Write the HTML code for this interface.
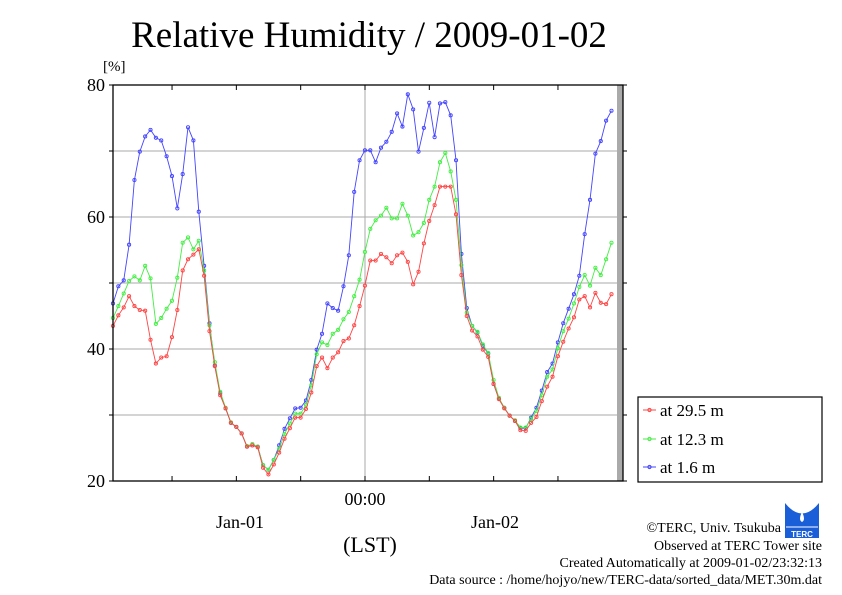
<!DOCTYPE html>
<html><head><meta charset="utf-8"><style>
html,body{margin:0;padding:0;background:#fff;}
svg{display:block;font-family:"Liberation Serif",serif;}
</style></head><body>
<svg id="chart" width="842" height="595" viewBox="0 0 842 595" xmlns="http://www.w3.org/2000/svg">
<rect x="0" y="0" width="842" height="595" fill="#fff"/>
<text x="369" y="47" text-anchor="middle" font-size="37" fill="#000">Relative Humidity / 2009-01-02</text>
<text x="103" y="71" font-size="15" fill="#000">[%]</text>
<g id="grid"></g>
<rect x="617" y="85" width="6" height="396" fill="#aaa"/>
<g id="series"></g>
<rect x="113" y="85" width="510" height="396" fill="none" stroke="#000" stroke-width="1.3"/>
<g id="axes"></g>
<text x="365" y="505" text-anchor="middle" font-size="18">00:00</text>
<text x="240" y="528" text-anchor="middle" font-size="18">Jan-01</text>
<text x="495" y="528" text-anchor="middle" font-size="18">Jan-02</text>
<text x="370" y="552" text-anchor="middle" font-size="22">(LST)</text>
<g>
<rect x="638" y="397" width="184" height="85" fill="#fff" stroke="#000" stroke-width="1.2"/>
<g><line x1="643" y1="410" x2="656" y2="410" stroke="#f44"/><circle cx="649.5" cy="410" r="1.6" fill="none" stroke="#f44"/><text x="660" y="416" font-size="17">at 29.5 m</text></g>
<g><line x1="643" y1="439" x2="656" y2="439" stroke="#4e4"/><circle cx="649.5" cy="439" r="1.6" fill="none" stroke="#4e4"/><text x="660" y="445" font-size="17">at 12.3 m</text></g>
<g><line x1="643" y1="467" x2="656" y2="467" stroke="#44f"/><circle cx="649.5" cy="467" r="1.6" fill="none" stroke="#44f"/><text x="660" y="473" font-size="17">at 1.6 m</text></g>
</g>
<g>
<rect x="785" y="503" width="34" height="35" fill="#1a5fd8"/>
<path d="M785 503 Q802 524 819 503 Z" fill="#fff"/>
<path d="M802 512 Q798 520 802 522 Q806 520 802 512Z" fill="#fff"/>
<line x1="786" y1="527" x2="818" y2="527" stroke="#fff" stroke-width="1"/>
<text x="802" y="537" text-anchor="middle" font-size="8" fill="#fff" font-family="Liberation Sans, sans-serif" font-weight="bold">TERC</text>
</g>
<g font-size="14" text-anchor="end" fill="#000">
<text x="781" y="532">©TERC, Univ. Tsukuba</text>
<text x="822" y="550">Observed at TERC Tower site</text>
<text x="822" y="567">Created Automatically at 2009-01-02/23:32:13</text>
<text x="822" y="584">Data source : /home/hojyo/new/TERC-data/sorted_data/MET.30m.dat</text>
</g>
</svg>
<script>
const yTicks = [20, 40, 60, 80];
const yGrid = [30, 40, 50, 60, 70];
const red = [43.5,45.1,46.3,48.0,46.5,45.9,45.8,41.4,37.8,38.7,38.9,41.8,45.9,51.9,53.6,54.3,55.1,51.1,42.7,37.4,33.0,31.0,28.8,28.2,27.2,25.2,25.4,25.1,22.0,21.0,22.5,24.3,26.4,28.0,29.6,29.6,30.9,33.4,37.4,38.7,37.1,38.7,39.5,41.2,41.6,43.6,46.5,
49.6,53.4,53.4,54.4,53.9,53.0,54.2,54.6,53.2,49.8,51.7,56.0,59.4,61.8,64.6,64.6,64.6,60.4,
51.2,45.0,42.8,41.9,39.9,38.8,34.7,32.4,31.0,29.9,29.1,27.7,27.6,28.8,29.7,32.1,34.3,35.8,38.9,41.1,43.1,44.8,47.5,48.0,46.3,48.5,47.0,46.8,48.3];
const green = [44.7,46.5,48.4,50.3,51.0,50.4,52.6,50.7,43.8,44.7,46.1,47.3,50.8,56.1,56.9,55.1,56.4,51.9,43.6,38.0,33.5,31.1,28.9,28.2,27.2,25.3,25.6,25.2,22.4,21.7,23.2,24.9,27.1,28.7,30.2,30.2,31.5,34.5,39.2,41.0,40.6,42.3,42.9,44.5,45.6,48.0,50.5,
54.7,58.2,59.5,60.2,61.4,59.8,59.8,62.0,60.2,57.2,57.7,59.1,62.6,64.6,68.3,69.7,66.9,62.6,
52.7,45.5,43.5,42.6,40.7,39.4,35.3,32.6,31.1,29.9,29.2,28.1,28.1,29.4,30.6,33.0,35.8,36.9,40.1,42.7,44.6,46.9,49.4,51.2,49.6,52.3,51.2,53.6,56.1];
const blue = [46.9,49.5,50.4,55.8,65.6,69.9,72.2,73.2,72.0,71.6,69.2,66.2,61.3,66.5,73.6,71.6,60.8,52.6,43.9,37.5,33.3,31.0,28.8,28.2,27.2,25.2,25.4,25.2,22.4,21.7,23.2,25.4,27.9,29.5,31.0,31.1,32.2,35.3,39.9,42.3,46.9,46.2,45.8,49.5,54.2,63.8,68.6,
70.1,70.1,68.3,70.5,71.4,72.9,75.7,73.7,78.6,76.3,69.9,73.5,77.3,72.1,77.2,77.4,75.4,68.6,
54.4,46.2,43.5,42.5,40.5,39.3,34.7,32.5,31.1,29.9,29.1,28.0,28.0,29.6,31.1,33.7,36.5,37.8,41.0,43.9,46.1,48.3,51.1,57.4,62.6,69.6,71.5,74.6,76.1];
const xTickHours = [6, 12, 18, 24, 30, 36, 42];

const NS = "http://www.w3.org/2000/svg";
const X0 = 113, X1 = 623, Y0 = 481, Y1 = 85;
const yS = v => Y0 - (v - 20) / 60 * (Y0 - Y1);
const xS = i => 113 + 5.36 * i;
const xH = h => 365 + (h - 24) * 10.72;

const grid = document.getElementById('grid');
const axes = document.getElementById('axes');
function mk(tag, attrs, parent) {
  const e = document.createElementNS(NS, tag);
  for (const k in attrs) e.setAttribute(k, attrs[k]);
  parent.appendChild(e);
  return e;
}
yGrid.forEach(v => {
  const l = mk('line', {x1: X0, x2: X1, y1: yS(v), y2: yS(v), stroke: '#aaa', 'stroke-width': 1}, grid);
  
  
});
const vg = mk('line', {x1: xH(24), x2: xH(24), y1: Y1, y2: Y0, stroke: '#aaa', 'stroke-width': 1}, grid);


xTickHours.forEach(h => {
  const x = xH(h);
  const t1 = mk('line', {x1: x, x2: x, y1: Y0, y2: Y0 - 5, stroke: '#000'}, axes);
  
  
  const t2 = mk('line', {x1: x, x2: x, y1: Y1, y2: Y1 + 5, stroke: '#000'}, axes);
  
  
});
yGrid.concat(yTicks).forEach(v => {
  const t = mk('line', {x1: X0 - 4, x2: X0, y1: yS(v), y2: yS(v), stroke: '#000'}, axes);
  
  
  const t2 = mk('line', {x1: X1, x2: X1 + 4, y1: yS(v), y2: yS(v), stroke: '#000'}, axes);
  
  
});
yTicks.forEach(v => {
  const t = mk('text', {x: X0 - 8, y: yS(v) + 6, 'text-anchor': 'end', 'font-size': 18}, axes);
  t.textContent = v;
  
  
});

const sg = document.getElementById('series');
[[red, '#f44', 'series-29-5m'], [green, '#4e4', 'series-12-3m'], [blue, '#44f', 'series-1-6m']].reverse().forEach(([d, c, n]) => {
  const g = mk('g', {}, sg);
  
  
  const pts = d.map((v, i) => xS(i).toFixed(1) + ',' + yS(v).toFixed(1)).join(' ');
  const pl = mk('polyline', {points: pts, fill: 'none', stroke: c, 'stroke-width': 0.9}, g);
  
  
  d.forEach((v, i) => {
    const p = mk('circle', {cx: xS(i), cy: yS(v), r: 1.6, fill: 'none', stroke: c, 'stroke-width': 0.9}, g);
    
    
  });
});
</script>
</body></html>
